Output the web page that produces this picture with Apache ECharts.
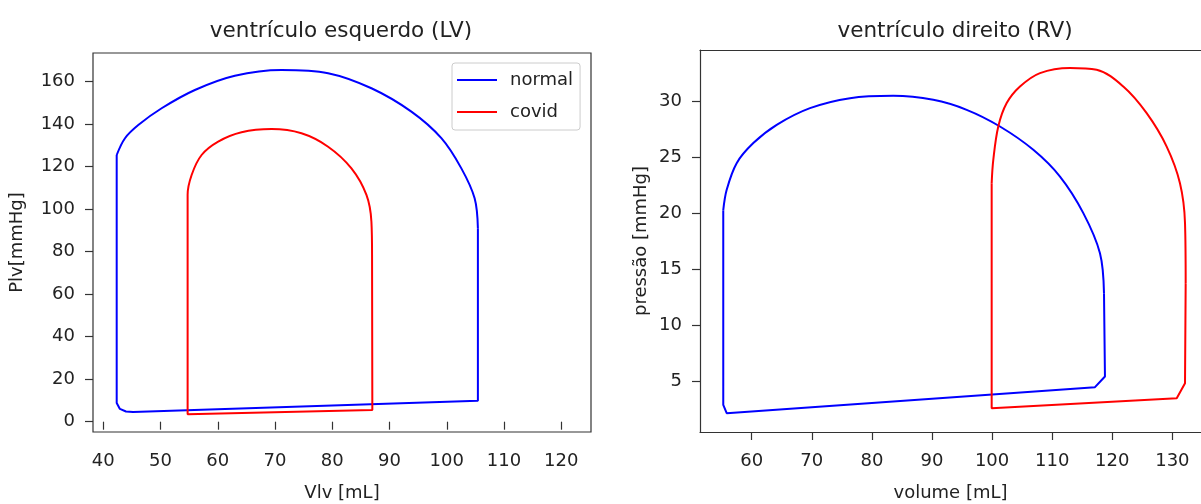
<!DOCTYPE html>
<html>
<head>
<meta charset="utf-8">
<script src="https://cdn.jsdelivr.net/npm/echarts@6/dist/echarts.min.js"></script>
<style>
  html, body { margin: 0; padding: 0; background: #fff; }
  #chart { width: 1201px; height: 504px; }
</style>
</head>
<body>
<div id="chart"></div>
<script>
'use strict';

// ventrículo esquerdo - normal [volume, pressão]: parte reta e arco
var lvNormalBase = [
	[42.34, 125.5], [42.34, 8.8], [42.9, 6.0], [43.96, 4.8], [45.2, 4.56],
	[105.44, 9.88], [105.44, 91.0]
];
var lvNormalArc = [
	[105.44, 91.0], [104.87, 105.1], [102.55, 119.2], [99.06, 133.4],
	[93.82, 145.9], [86.84, 156.9], [79.27, 164.0], [71.13, 165.5],
	[62.98, 162.8], [56.0, 156.1], [50.19, 147.5], [46.11, 139.6],
	[43.79, 133.4], [42.34, 125.5]
];
// ventrículo esquerdo - covid
var lvCovidBase = [
	[54.73, 99.6], [54.73, 3.5], [87.0, 5.5], [86.95, 78.4]
];
var lvCovidArc = [
	[86.95, 78.4], [86.84, 94.1], [85.97, 106.7], [83.35, 119.2],
	[79.27, 129.4], [74.62, 135.7], [69.39, 137.7], [64.15, 136.2],
	[60.07, 131.8], [57.17, 125.5], [55.43, 116.1], [54.73, 106.7],
	[54.73, 99.6]
];
// ventrículo direito - normal
var rvNormalBase = [
	[55.27, 20.3], [55.27, 2.92], [55.84, 2.18], [117.12, 4.5],
	[118.78, 5.45], [118.62, 12.89]
];
var rvNormalArc = [
	[118.62, 12.89], [117.95, 16.46], [115.18, 20.04], [111.3, 23.3],
	[106.86, 25.69], [101.31, 27.77], [95.77, 29.26], [90.22, 30.15],
	[83.56, 30.51], [76.36, 30.3], [69.7, 29.41], [64.16, 27.92],
	[60.27, 26.29], [57.5, 24.5], [55.84, 22.12], [55.27, 20.3]
];
// ventrículo direito - covid
var rvCovidBase = [
	[99.93, 22.71], [99.93, 2.63], [130.72, 3.52], [132.1, 4.86],
	[132.21, 13.79]
];
var rvCovidArc = [
	[132.21, 13.79], [132.1, 19.14], [131.26, 22.71], [129.05, 25.98],
	[125.72, 28.96], [121.83, 31.34], [117.4, 32.83], [112.96, 33.0],
	[107.97, 32.54], [104.64, 31.34], [102.43, 29.86], [101.03, 27.77],
	[100.2, 24.79], [99.93, 22.71]
];

// marcas dos eixos
var lvXTicks = [40, 50, 60, 70, 80, 90, 100, 110, 120];
var lvYTicks = [0, 20, 40, 60, 80, 100, 120, 140, 160];
var rvXTicks = [60, 70, 80, 90, 100, 110, 120, 130];
var rvYTicks = [5, 10, 15, 20, 25, 30];

var fontFam = 'DejaVu Sans';
var fSize = 18;
var txtColor = '#222';
var frame = { color: '#333', width: 1.2 };

var axisOf = function(dir, idx, min, max, ticks, name, gap, showLine){
	return {
		type : 'value',
		gridIndex : idx,
		position : dir == 'x' ? 'bottom' : 'left',
		min : min,
		max : max,
		name : name,
		nameLocation : 'middle',
		nameGap : gap,
		nameTextStyle : { fontFamily: fontFam, fontSize: fSize, color: txtColor },
		axisLine : { show: showLine, lineStyle: frame },
		splitLine : { show: false },
		axisTick : { show: true, inside: false, length: 8, customValues: ticks, lineStyle: frame },
		axisLabel : { customValues: ticks, margin: dir == 'x' ? 20 : 18, fontFamily: fontFam,
			fontSize: fSize, color: txtColor }
	};
};

//só a linha da moldura de cima
var topFrame = function(idx, min, max){
	return {
		type : 'value', gridIndex : idx, position : 'top', min : min, max : max,
		axisLine : { show: true, onZero: false, lineStyle: frame },
		axisTick : { show: false }, axisLabel : { show: false }, splitLine : { show: false }
	};
};

var lineOf = function(name, idx, data, color, smooth){
	return {
		name : name,
		type : 'line',
		xAxisIndex : idx,
		yAxisIndex : idx,
		data : data,
		showSymbol : false,
		smooth : smooth,
		lineStyle : { color: color, width: 2 },
		itemStyle : { color: color },
		animation : false
	};
};

var myChart = echarts.init(document.getElementById('chart'));

var option = {
	backgroundColor : '#fff',
	animation : false,
	title : [
		{ text: 'ventrículo esquerdo (LV)', left: 336, top: 15, textAlign: 'center',
			textStyle: { fontFamily: fontFam, fontSize: 21.5, fontWeight: 'normal', color: txtColor } },
		{ text: 'ventrículo direito (RV)', left: 950, top: 15, textAlign: 'center',
			textStyle: { fontFamily: fontFam, fontSize: 21.5, fontWeight: 'normal', color: txtColor } }
	],
	legend : {
		data : ['normal', 'covid'],
		orient : 'vertical',
		left : 452,
		top : 63,
		padding : [8, 7, 9, 5],
		itemGap : 14,
		itemWidth : 40,
		itemHeight : 2,
		icon : 'rect',
		borderColor : '#ccc',
		borderWidth : 1,
		borderRadius : 3,
		textStyle : { fontFamily: fontFam, fontSize: fSize, color: txtColor, padding: [0, 0, 0, 8] }
	},
	grid : [
		{ left: 93, top: 53, width: 498, height: 379, show: true, outerBoundsMode: 'none',
			borderColor: '#333', borderWidth: 1.2, backgroundColor: '#fff' },
		{ left: 700, top: 50, width: 501, height: 382, outerBoundsMode: 'none' }
	],
	xAxis : [
		axisOf('x', 0, 38.2, 125.2, lvXTicks, 'Vlv [mL]', 52, false),
		axisOf('x', 1, 51.4, 134.76, rvXTicks, 'volume [mL]', 52, true),
		topFrame(1, 51.4, 134.76)
	],
	yAxis : [
		axisOf('y', 0, -4.85, 173.5, lvYTicks, 'Plv[mmHg]', 67, false),
		axisOf('y', 1, 0.5, 34.6, rvYTicks, 'pressão [mmHg]', 50, true)
	],
	series : [
		lineOf('normal', 0, lvNormalBase, '#0000ff', false),
		lineOf('normal', 0, lvNormalArc, '#0000ff', 0.35),
		lineOf('covid', 0, lvCovidBase, '#ff0000', false),
		lineOf('covid', 0, lvCovidArc, '#ff0000', 0.35),
		lineOf('normal', 1, rvNormalBase, '#0000ff', false),
		lineOf('normal', 1, rvNormalArc, '#0000ff', 0.35),
		lineOf('covid', 1, rvCovidBase, '#ff0000', false),
		lineOf('covid', 1, rvCovidArc, '#ff0000', 0.35)
	]
};

myChart.setOption(option);
</script>
</body>
</html>
